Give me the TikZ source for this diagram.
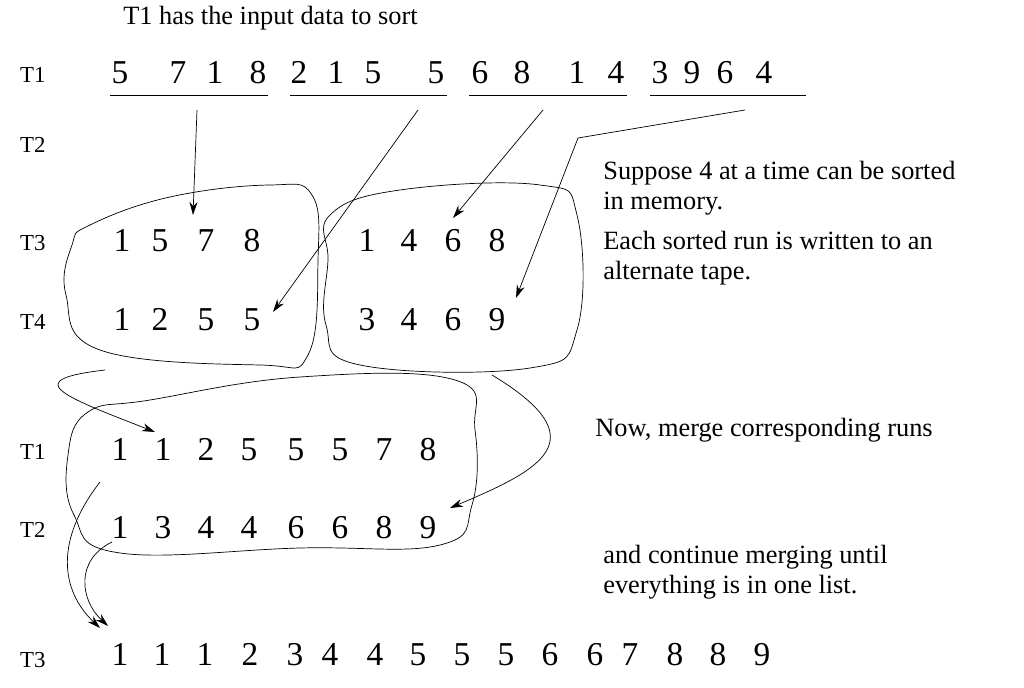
\documentclass[tikz,border=0pt]{standalone}
\usepackage{fontspec}
\setmainfont{Liberation Serif}
\usetikzlibrary{arrows.meta}

\begin{document}
\begin{tikzpicture}[
  x=0.02cm, y=-0.02cm,
  tape/.style={font=\rmfamily\fontsize{13}{15}\selectfont, anchor=west},
  digit/.style={font=\rmfamily\fontsize{19}{20}\selectfont, inner sep=0pt, anchor=base, yshift=-0.18cm},
  note/.style={font=\rmfamily\fontsize{15}{17}\selectfont, anchor=west, align=left, inner sep=0pt},
  arr/.style={-{Stealth[length=2.6mm,width=1.6mm]}},
  blob/.style={thin}
]
\useasboundingbox (0,0) rectangle (1024,688);

% Title and tape labels
\node[note] (title) at (123,18) {T1 has the input data to sort};
\foreach \t/\y/\n in {T1/75/a, T2/145/b, T3/243/c, T4/322/d, T1/452/e, T2/530/f, T3/660/g}
  \node[tape] (lab\n) at (14,\y) {\t};

% Input tape
\foreach \x/\d [count=\i] in {120/5,178/7,215/1,258/8,299/2,336/1,373/5,436/5,
    480/6,522/8,577/1,616/4,660/3,692/9,725/6,764/4}
  \node[digit] (in\i) at (\x,75) {\d};
\foreach \a/\b [count=\i] in {110/268,290/447,469/627,650/806}
  \draw (\a,95) coordinate (u\i) -- (\b,95);

% Sorted runs
\foreach \x/\d [count=\i] in {122/1,160/5,206/7,252/8,367/1,409/4,453/6,497/8}
  \node[digit] (ra\i) at (\x,243) {\d};
\foreach \x/\d [count=\i] in {122/1,160/2,206/5,252/5,367/3,409/4,453/6,497/9}
  \node[digit] (rb\i) at (\x,322) {\d};

% Merged runs
\foreach \x/\d [count=\i] in {120/1,163/1,206/2,249/5,296/5,340/5,384/7,428/8}
  \node[digit] (ma\i) at (\x,452) {\d};
\foreach \x/\d [count=\i] in {120/1,163/3,206/4,249/4,296/6,340/6,384/8,428/9}
  \node[digit] (mb\i) at (\x,530) {\d};
\foreach \x/\d [count=\i] in {120/1,162/1,205/1,250/2,295/3,330/4,375/4,418/5,
    462/5,506/5,550/6,595/6,630/7,675/8,718/8,762/9}
  \node[digit] (fin\i) at (\x,657) {\d};

% Notes
\node[note] (n1) at (603,188) {Suppose 4 at a time can be sorted\\in memory.};
\node[note] (n2) at (603,258) {Each sorted run is written to an\\alternate tape.};
\node[note] (n3) at (595,430) {Now, merge corresponding runs};
\node[note] (n4) at (603,572) {and continue merging until\\everything is in one list.};

% Loops around runs
\draw[blob] plot[smooth cycle, tension=0.7] coordinates {(90,225) (170,197) (270,185) (312,195)
  (318,260) (308,355) (260,365) (100,350) (66,295) (72,245)};
\draw[blob] plot[smooth cycle, tension=0.7] coordinates {(330,215) (400,190) (540,185) (577,215)
  (577,330) (530,368) (360,365) (326,325) (328,260)};
\draw[blob] plot[smooth cycle, tension=0.7] coordinates {(150,400) (300,377) (455,380) (475,430)
  (472,505) (440,545) (300,548) (120,553) (74,515) (68,455) (88,412)};

% Arrows from input to runs
\coordinate (t7) at (193,215);
\draw[arr] (197,110) -- (t7);
\draw[arr] (418,110) -- (273,312);
\draw[arr] (543,110) -- (453,218);
\draw[arr] (745,110) -- (578,138) -- (516,298);

% Arrows into merged tapes
\draw[arr] (105,370) .. controls (20,380) and (60,395) .. (155,432);
\draw[arr] (492,375) .. controls (600,440) and (540,470) .. (450,508);
\draw[arr] (100,482) .. controls (55,540) and (60,590) .. (100,628);
\draw[arr] (112,542) .. controls (75,560) and (80,600) .. (108,626);
\end{tikzpicture}
\end{document}
